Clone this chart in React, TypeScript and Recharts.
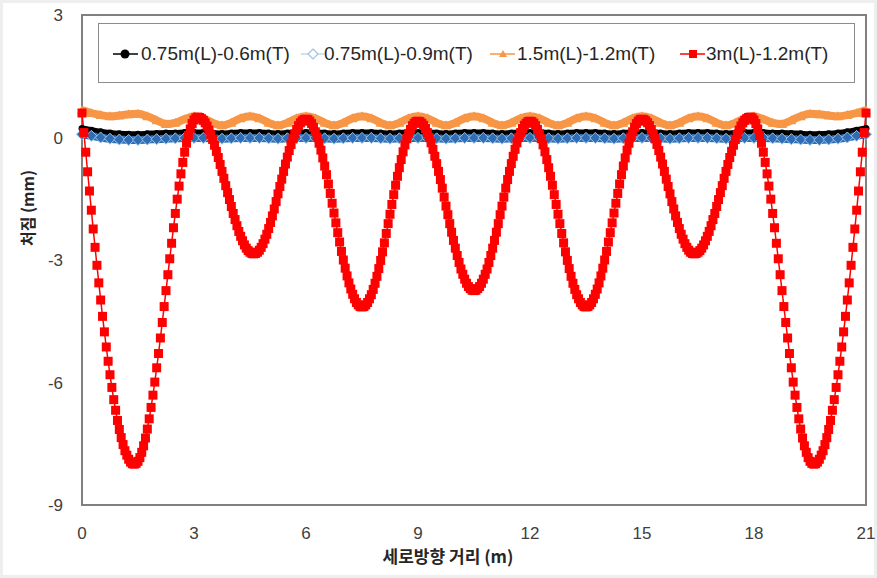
import { LineChart, Line, XAxis, YAxis, Legend, ReferenceArea } from 'recharts';

const X_TICKS = [0, 3, 6, 9, 12, 15, 18, 21];
const Y_TICKS = [-9, -6, -3, 0, 3];

// 3m(L)-1.2m(T), read every 0.05 m
const RED_STEP = 0.05;
const RED_Y = [
  0.6, 0.12, -0.36, -0.84, -1.31, -1.78, -2.24, -2.69, -3.13, -3.56, -3.98, -4.38, -4.76, -5.13, -5.48,
  -5.81, -6.12, -6.42, -6.68, -6.93, -7.15, -7.35, -7.52, -7.67, -7.78, -7.88, -7.95, -7.99, -8.0,
  -7.98, -7.93, -7.84, -7.71, -7.55, -7.36, -7.14, -6.89, -6.61, -6.31, -5.99, -5.64, -5.29, -4.91, -4.53,
  -4.14, -3.75, -3.36, -2.97, -2.59, -2.21, -1.86, -1.51, -1.19, -0.89, -0.61, -0.36, -0.14, 0.05, 0.21,
  0.34, 0.43, 0.48, 0.5,
  0.49, 0.46, 0.42, 0.36, 0.28, 0.18, 0.07, -0.05, -0.19, -0.34, -0.49, -0.66, -0.83, -1.0, -1.18,
  -1.35, -1.52, -1.69, -1.86, -2.01, -2.16, -2.3, -2.42, -2.53, -2.63, -2.71, -2.77, -2.81, -2.84, -2.85,
  -2.84, -2.81, -2.76, -2.69, -2.6, -2.49, -2.37, -2.23, -2.08, -1.92, -1.75, -1.57, -1.38, -1.2,
  -1.02, -0.83, -0.65, -0.48, -0.32, -0.17, -0.03, 0.09, 0.2, 0.29, 0.36, 0.41, 0.44, 0.45,
  0.44, 0.4, 0.34, 0.25, 0.14, 0.01, -0.14, -0.31, -0.5, -0.7, -0.91, -1.14, -1.37, -1.61, -1.85,
  -2.09, -2.33, -2.56, -2.79, -3.0, -3.2, -3.39, -3.56, -3.71, -3.84, -3.95, -4.04, -4.1, -4.14, -4.15,
  -4.14, -4.1, -4.04, -3.95, -3.85, -3.72, -3.57, -3.4, -3.21, -3.01, -2.8, -2.58, -2.35, -2.11, -1.88,
  -1.64, -1.4, -1.17, -0.95, -0.74, -0.54, -0.35, -0.18, -0.03, 0.1, 0.2, 0.29, 0.35, 0.39, 0.4,
  0.39, 0.35, 0.3, 0.22, 0.12, 0.0, -0.13, -0.29, -0.46, -0.64, -0.83, -1.03, -1.24, -1.46, -1.68,
  -1.89, -2.11, -2.32, -2.52, -2.71, -2.89, -3.06, -3.22, -3.35, -3.47, -3.57, -3.65, -3.7, -3.74, -3.75,
  -3.74, -3.7, -3.65, -3.57, -3.47, -3.35, -3.22, -3.06, -2.89, -2.71, -2.52, -2.32, -2.11, -1.89, -1.68,
  -1.46, -1.24, -1.03, -0.83, -0.64, -0.46, -0.29, -0.13, 0.0, 0.12, 0.22, 0.3, 0.35, 0.39, 0.4,
  0.39, 0.35, 0.29, 0.2, 0.1, -0.03, -0.18, -0.35, -0.54, -0.74, -0.95, -1.17, -1.4, -1.64, -1.88,
  -2.11, -2.35, -2.58, -2.8, -3.01, -3.21, -3.4, -3.57, -3.72, -3.85, -3.95, -4.04, -4.1, -4.14, -4.15,
  -4.14, -4.1, -4.04, -3.95, -3.84, -3.71, -3.56, -3.39, -3.2, -3.0, -2.79, -2.56, -2.33, -2.09, -1.85,
  -1.61, -1.37, -1.14, -0.91, -0.7, -0.5, -0.31, -0.14, 0.01, 0.14, 0.25, 0.34, 0.4, 0.44, 0.45,
  0.44, 0.41, 0.36, 0.29, 0.2, 0.09, -0.03, -0.17, -0.32, -0.48, -0.65, -0.83, -1.02, -1.2,
  -1.38, -1.57, -1.75, -1.92, -2.08, -2.23, -2.37, -2.49, -2.6, -2.69, -2.76, -2.81, -2.84, -2.85,
  -2.84, -2.81, -2.77, -2.71, -2.63, -2.53, -2.42, -2.3, -2.16, -2.01, -1.86, -1.69, -1.52, -1.35, -1.18,
  -1.0, -0.83, -0.66, -0.49, -0.34, -0.19, -0.05, 0.07, 0.18, 0.28, 0.36, 0.42, 0.46, 0.49, 0.5,
  0.48, 0.43, 0.34, 0.21, 0.05, -0.14, -0.36, -0.61, -0.89, -1.19, -1.51, -1.86, -2.21, -2.59, -2.97,
  -3.36, -3.75, -4.14, -4.53, -4.91, -5.29, -5.64, -5.99, -6.31, -6.61, -6.89, -7.14, -7.36, -7.55,
  -7.71, -7.84, -7.93, -7.98, -8.0,
  -7.99, -7.95, -7.88, -7.78, -7.67, -7.52, -7.35, -7.15, -6.93, -6.68, -6.42, -6.12, -5.81, -5.48,
  -5.13, -4.76, -4.38, -3.98, -3.56, -3.13, -2.69, -2.24, -1.78, -1.31, -0.84, -0.36, 0.12, 0.6,
];

// the three flat ones, read every 0.25 m
const FLAT_STEP = 0.25;
const BLACK_Y = [
  0.22, 0.18, 0.14, 0.11, 0.09, 0.08, 0.08, 0.09, 0.1, 0.11, 0.11, 0.12,
  0.12, 0.12, 0.11, 0.1, 0.11, 0.12, 0.12, 0.12, 0.11, 0.1, 0.11, 0.12,
  0.12, 0.12, 0.11, 0.1, 0.11, 0.12, 0.12, 0.12, 0.11, 0.1, 0.11, 0.12,
  0.12, 0.12, 0.11, 0.1, 0.11, 0.12, 0.12, 0.12, 0.11, 0.1, 0.11, 0.12,
  0.12, 0.12, 0.11, 0.1, 0.11, 0.12, 0.12, 0.12, 0.11, 0.1, 0.11, 0.12,
  0.12, 0.12, 0.11, 0.1, 0.11, 0.12, 0.12, 0.12, 0.11, 0.1, 0.11, 0.12,
  0.12, 0.12, 0.11, 0.11, 0.1, 0.09, 0.08, 0.08, 0.09, 0.11, 0.14, 0.18, 0.22,
];
const BLUE_Y = [
  0.08, 0.04, 0.0, -0.03, -0.05, -0.06, -0.06, -0.05, -0.04, -0.03, -0.02, -0.01,
  -0.01, -0.01, -0.02, -0.03, -0.02, -0.01, -0.01, -0.01, -0.02, -0.03, -0.02, -0.01,
  -0.01, -0.01, -0.02, -0.03, -0.02, -0.01, -0.01, -0.01, -0.02, -0.03, -0.02, -0.01,
  -0.01, -0.01, -0.02, -0.03, -0.02, -0.01, -0.01, -0.01, -0.02, -0.03, -0.02, -0.01,
  -0.01, -0.01, -0.02, -0.03, -0.02, -0.01, -0.01, -0.01, -0.02, -0.03, -0.02, -0.01,
  -0.01, -0.01, -0.02, -0.03, -0.02, -0.01, -0.01, -0.01, -0.02, -0.03, -0.02, -0.01,
  -0.01, -0.01, -0.02, -0.03, -0.04, -0.05, -0.06, -0.06, -0.05, -0.03, 0.0, 0.04, 0.08,
];
const ORANGE_Y = [
  0.67, 0.6, 0.55, 0.52, 0.54, 0.57, 0.58, 0.52, 0.42, 0.33, 0.36, 0.45,
  0.52, 0.47, 0.36, 0.3, 0.36, 0.47, 0.52, 0.47, 0.36, 0.3, 0.36, 0.47,
  0.52, 0.47, 0.36, 0.3, 0.36, 0.47, 0.52, 0.47, 0.36, 0.3, 0.36, 0.47,
  0.52, 0.47, 0.36, 0.3, 0.36, 0.47, 0.52, 0.47, 0.36, 0.3, 0.36, 0.47,
  0.52, 0.47, 0.36, 0.3, 0.36, 0.47, 0.52, 0.47, 0.36, 0.3, 0.36, 0.47,
  0.52, 0.47, 0.36, 0.3, 0.36, 0.47, 0.52, 0.47, 0.36, 0.3, 0.36, 0.47,
  0.52, 0.45, 0.36, 0.33, 0.42, 0.52, 0.58, 0.57, 0.54, 0.52, 0.55, 0.6, 0.67,
];

const toPoints = (ys: number[], step: number) =>
  ys.map((y, i) => ({ x: Math.round(i * step * 100) / 100, y }));

const redData = toPoints(RED_Y, RED_STEP);
const blackData = toPoints(BLACK_Y, FLAT_STEP);
const blueData = toPoints(BLUE_Y, FLAT_STEP);
const orangeData = toPoints(ORANGE_Y, FLAT_STEP);

const FONT = '"Liberation Sans", Arial, sans-serif';
const KFONT = '"Noto Sans CJK KR", "Liberation Sans", sans-serif';

const BLACK = '#000000';
const BLUE = '#2E6DB4';
const BLUE_LIGHT = '#9DC3E6';
const ORANGE = '#F79646';
const RED = '#FF0000';

const blackDot = (p: any) => <circle key={p.index} cx={p.cx} cy={p.cy} r={3.5} fill={BLACK} />;
const blueDot = (p: any) => (
  <path
    key={p.index}
    d={`M${p.cx},${p.cy - 5.5}L${p.cx + 5.5},${p.cy}L${p.cx},${p.cy + 5.5}L${p.cx - 5.5},${p.cy}Z`}
    fill={BLUE}
    stroke={BLUE_LIGHT}
    strokeWidth={1}
  />
);
const orangeDot = (p: any) => (
  <path
    key={p.index}
    d={`M${p.cx},${p.cy - 5}L${p.cx + 5},${p.cy + 4}L${p.cx - 5},${p.cy + 4}Z`}
    fill={ORANGE}
  />
);
const redDot = (p: any) => <rect key={p.index} x={p.cx - 4.5} y={p.cy - 4.5} width={9} height={9} fill={RED} />;

function ChartLegend() {
  const ty = 37;
  return (
    <svg width={757} height={60} style={{ display: 'block' }}>
      <rect x={0.5} y={0.5} width={756} height={59} fill="#fff" stroke="#8c8c8c" />
      <g fontFamily={FONT} fontSize={19} fill="#262626">
        <line x1={15} x2={40} y1={31} y2={31} stroke={BLACK} strokeWidth={1.5} />
        <circle cx={27} cy={31} r={4.5} fill={BLACK} />
        <text x={43} y={ty}>0.75m(L)-0.6m(T)</text>

        <line x1={203} x2={226} y1={31} y2={31} stroke={BLUE_LIGHT} strokeWidth={1} />
        <path d="M215,26L220,31L215,36L210,31Z" fill="#fff" stroke={BLUE_LIGHT} strokeWidth={1.2} />
        <text x={226} y={ty}>0.75m(L)-0.9m(T)</text>

        <line x1={392} x2={417} y1={31} y2={31} stroke={ORANGE} strokeWidth={1.5} />
        <path d="M405,27L409,34L401,34Z" fill={ORANGE} />
        <text x={419} y={ty}>1.5m(L)-1.2m(T)</text>

        <line x1={582} x2={607} y1={31} y2={31} stroke={RED} strokeWidth={1.5} />
        <rect x={591} y={27} width={8} height={8} fill={RED} />
        <text x={608} y={ty}>3m(L)-1.2m(T)</text>
      </g>
    </svg>
  );
}

function XTitle() {
  return (
    <text x={448} y={563} textAnchor="middle" fontFamily={KFONT} fontWeight="bold" fontSize={17} fill="#262626">
      세로방향 거리 (m)
    </text>
  );
}

function YTitle() {
  return (
    <text
      x={27}
      y={208}
      textAnchor="middle"
      dominantBaseline="central"
      transform="rotate(-90 27 208)"
      fontFamily={KFONT}
      fontWeight="bold"
      fontSize={16}
      fill="#262626"
    >
      처짐 (mm)
    </text>
  );
}

export default function App() {
  return (
    <div
      style={{
        position: 'absolute',
        left: 0,
        top: 0,
        width: 877,
        height: 578,
        background: '#fff',
        boxShadow: 'inset 0 0 0 3px #eeeeee',
      }}
    >
      <LineChart width={877} height={578} margin={{ top: 15, right: 11, left: 0, bottom: 0 }}>
        <XAxis
          type="number"
          dataKey="x"
          domain={[0, 21]}
          ticks={X_TICKS}
          axisLine={false}
          tickLine={false}
          tickMargin={16}
          height={73}
          tick={{ fontSize: 17, fontFamily: FONT, fill: '#404040' }}
          label={<XTitle />}
        />
        <YAxis
          type="number"
          dataKey="y"
          domain={[-9, 3]}
          ticks={Y_TICKS}
          axisLine={false}
          tickLine={false}
          tickMargin={13}
          width={82}
          tick={{ fontSize: 17, fontFamily: FONT, fill: '#404040' }}
          label={<YTitle />}
        />
        <ReferenceArea x1={0} x2={21} y1={-9} y2={3} fill="none" stroke="#808080" strokeWidth={2} />
        <Legend
          layout="horizontal"
          verticalAlign="middle"
          align="center"
          content={() => <ChartLegend />}
          wrapperStyle={{ left: 98, top: 23, width: 757, height: 60 }}
        />
        <Line
          data={blackData}
          dataKey="y"
          name="0.75m(L)-0.6m(T)"
          type="monotone"
          stroke={BLACK}
          strokeWidth={6}
          dot={blackDot}
          activeDot={false}
          isAnimationActive={false}
        />
        <Line
          data={blueData}
          dataKey="y"
          name="0.75m(L)-0.9m(T)"
          type="monotone"
          stroke={BLUE}
          strokeWidth={8}
          dot={blueDot}
          activeDot={false}
          isAnimationActive={false}
        />
        <Line
          data={orangeData}
          dataKey="y"
          name="1.5m(L)-1.2m(T)"
          type="monotone"
          stroke={ORANGE}
          strokeWidth={8}
          dot={orangeDot}
          activeDot={false}
          isAnimationActive={false}
        />
        <Line
          data={redData}
          dataKey="y"
          name="3m(L)-1.2m(T)"
          type="linear"
          stroke={RED}
          strokeWidth={1.5}
          dot={redDot}
          activeDot={false}
          isAnimationActive={false}
        />
      </LineChart>
    </div>
  );
}
